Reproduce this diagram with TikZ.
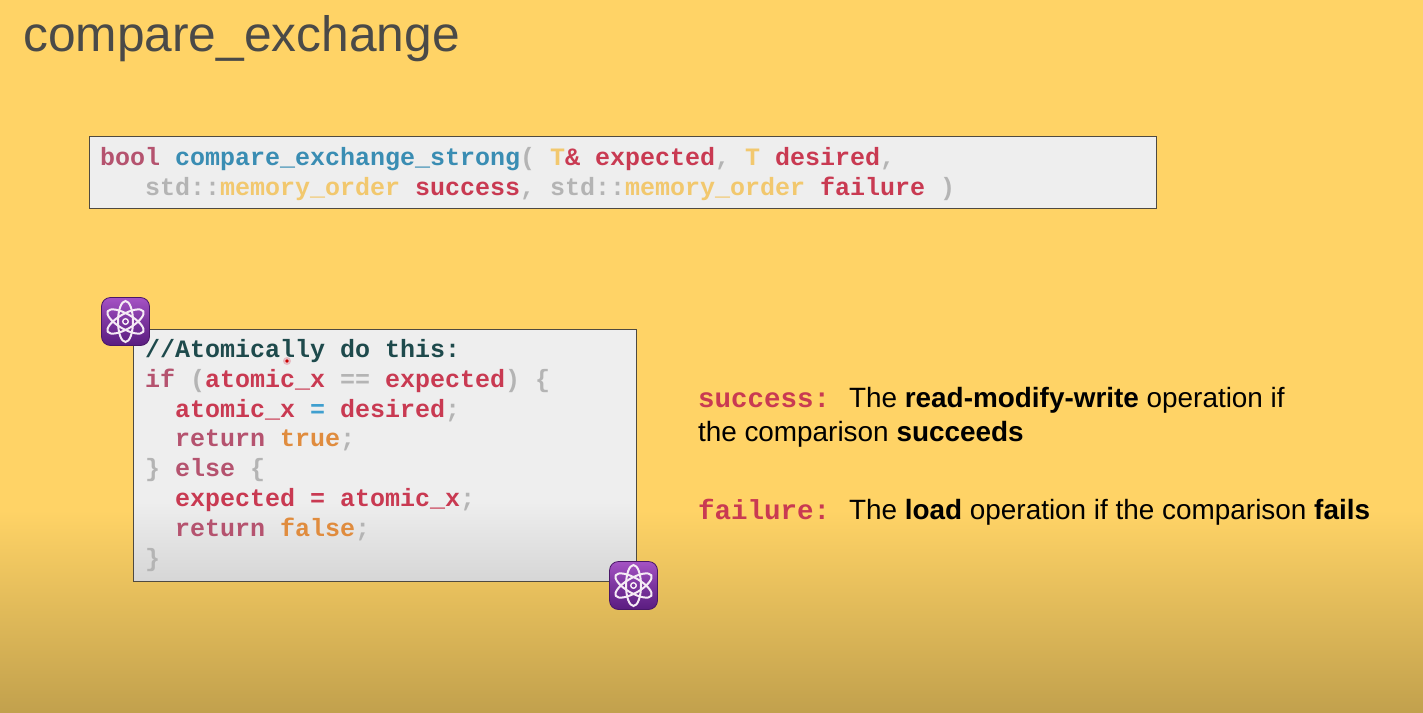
\documentclass[tikz,border=0pt]{standalone}
\usepackage{fontspec}
\setmainfont{Liberation Sans}
\setmonofont{Liberation Mono}
\definecolor{bgtop}{HTML}{FFD366}
\definecolor{bgbot}{HTML}{C2A14D}
\definecolor{kw}{HTML}{B5536F}
\definecolor{fn}{HTML}{3A8DB3}
\definecolor{ty}{HTML}{F2C86E}
\definecolor{vr}{HTML}{C93A52}
\definecolor{gy}{HTML}{B4B4B4}
\definecolor{cm}{HTML}{1E4A4C}
\definecolor{lit}{HTML}{E08C3E}
\definecolor{op}{HTML}{3F9FCF}
\definecolor{ttl}{HTML}{4A4A48}
\definecolor{edge}{HTML}{4F4A40}
\definecolor{iconT}{HTML}{A552C4}
\definecolor{iconB}{HTML}{5A1C80}
\definecolor{iconE}{HTML}{4A1768}
\newcommand{\K}[1]{\textcolor{kw}{#1}}
\newcommand{\F}[1]{\textcolor{fn}{#1}}
\newcommand{\Y}[1]{\textcolor{ty}{#1}}
\newcommand{\V}[1]{\textcolor{vr}{#1}}
\newcommand{\G}[1]{\textcolor{gy}{#1}}
\newcommand{\C}[1]{\textcolor{cm}{#1}}
\newcommand{\Lt}[1]{\textcolor{lit}{#1}}
\newcommand{\Op}[1]{\textcolor{op}{#1}}
\tikzset{
  x=1pt,y=-1pt,
  codeline/.style={anchor=base west,inner sep=0pt,outer sep=0pt,font=\fontsize{25}{30}\selectfont\ttfamily\bfseries},
  notemono/.style={anchor=base west,inner sep=0pt,outer sep=0pt,text=vr,font=\fontsize{27.5}{30}\selectfont\ttfamily\bfseries},
  notetext/.style={anchor=base west,inner sep=0pt,outer sep=0pt,text=black,font=\fontsize{27.9}{30}\selectfont},
  atomicon/.style={rounded corners=9pt,draw=iconE,line width=0.8pt,top color=iconT,bottom color=iconB,middle color=iconB!55!iconT,minimum size=48pt,inner sep=0pt},
  atomring/.style={draw=white!92!violet,line width=2pt},
}
\newcommand{\atomart}[1]{%
  \foreach \a in {30,90,150}{\draw[atomring,rotate around={\a:(#1)}] (#1) ellipse (20.5pt and 7.5pt);}
  \draw[atomring,line width=1.4pt] (#1) circle (2.8pt);
}
\begin{document}
\begin{tikzpicture}
\useasboundingbox (0,0) rectangle (1423,712);
\fill[bgtop] (0,0) rectangle (1423,511);
\shade[top color=bgtop,bottom color=bgbot,shading angle=0] (0,510) rectangle (1423,712);
% title
\node[anchor=base west,inner sep=0pt,text=ttl,font=\fontsize{49.7}{50}\selectfont] (title) at (23,51) {compare\_exchange};
% signature box
\path[fill=black!6.5] (89,136) rectangle (1155.5,207.5);
\node[draw=edge,line width=1.2pt,inner sep=0pt,minimum width=1066.5pt,minimum height=71.5pt,anchor=north west] (sigbox) at (89,136) {};
\node[codeline] (sigA) at (100,165) {\K{bool} \F{compare\_exchange\_strong}\G{(} \Y{T}\V{\&} \V{expected}\G{,} \Y{T} \V{desired}\G{,}};
\node[codeline] (sigB) at (100,195) {\phantom{xxx}\G{std::}\Y{memory\_order} \V{success}\G{,} \G{std::}\Y{memory\_order} \V{failure} \G{)}};
% code box
\fill[black!6.5] (133,329) rectangle (635.5,501);
\shade[top color=black!6.5,bottom color=black!16] (133,500) rectangle (635.5,580.5);
\node[draw=edge,line width=1.2pt,inner sep=0pt,minimum width=502.5pt,minimum height=251.5pt,anchor=north west] (codebox) at (133,329) {};
\node[codeline] (l1) at (145,357) {\C{//Atomically do this:}};
\node[codeline] (l2) at (145,387) {\K{if} \G{(}\V{atomic\_x} \G{==} \V{expected}\G{)} \G{\{}};
\node[codeline] (l3) at (145,417) {\phantom{xx}\V{atomic\_x} \Op{=} \V{desired}\G{;}};
\node[codeline] (l4) at (145,446) {\phantom{xx}\K{return} \Lt{true}\G{;}};
\node[codeline] (l5) at (145,476) {\G{\}} \K{else} \G{\{}};
\node[codeline] (l6) at (145,506) {\phantom{xx}\V{expected = atomic\_x}\G{;}};
\node[codeline] (l7) at (145,536) {\phantom{xx}\K{return} \Lt{false}\G{;}};
\node[codeline] (l8) at (145,566) {\G{\}}};
% pointer dot
\fill[vr!60!white,opacity=.5] (287,361) circle (4pt);
\fill[red!80!black] (287,361) circle (1.8pt);
% atom icons
\node[atomicon] (atomA) at (125.5,321.5) {};
\atomart{atomA.center}
\node[atomicon] (atomB) at (633.5,585.5) {};
\atomart{atomB.center}
% notes
\node[notemono] (succ) at (698,407) {success:};
\node[notetext] (succA) at (849,407) {The \textbf{read-modify-write} operation if};
\node[notetext] (succB) at (698,441) {the comparison \textbf{succeeds}};
\node[notemono] (fail) at (698,519) {failure:};
\node[notetext] (failA) at (849,519) {The \textbf{load} operation if the comparison \textbf{fails}};
\end{tikzpicture}
\end{document}
